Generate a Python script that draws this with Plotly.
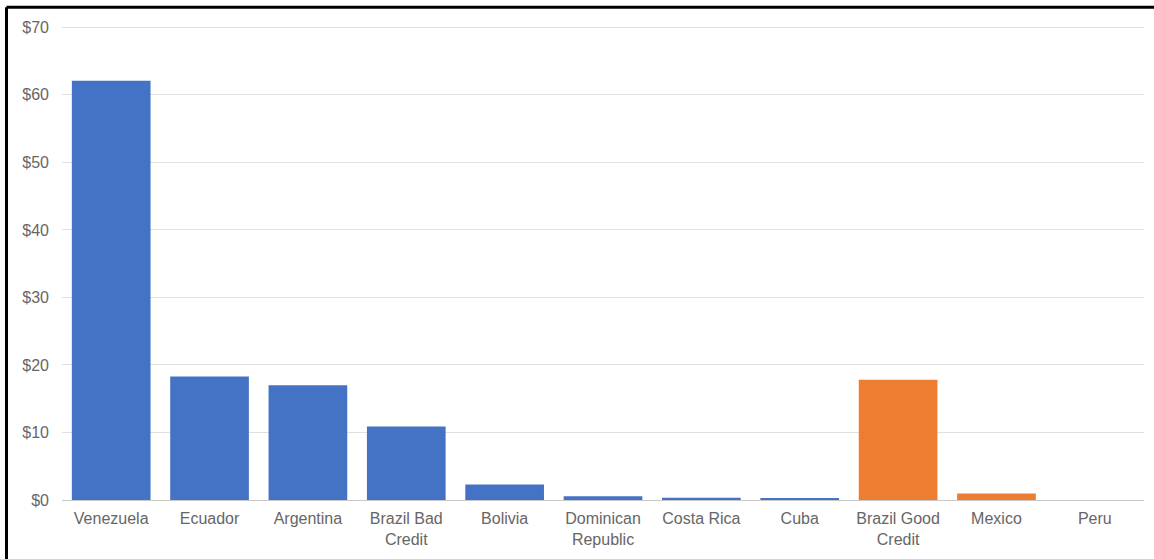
import plotly.graph_objects as go

# Countries in display order, with the value for each and the credit group
countries = ["Venezuela", "Ecuador", "Argentina", "Brazil Bad<br>Credit", "Bolivia",
             "Dominican<br>Republic", "Costa Rica", "Cuba", "Brazil Good<br>Credit",
             "Mexico", "Peru"]
values = [62.1, 18.3, 17.0, 10.9, 2.3, 0.55, 0.33, 0.18, 17.8, 0.95, 0.0]
groups = ["bad", "bad", "bad", "bad", "bad", "bad", "bad", "bad", "good", "good", "good"]

group_colors = {"bad": "#4472C4", "good": "#ED7D31"}
y_ticks = [0, 10, 20, 30, 40, 50, 60, 70]
y_tick_text = ["$" + str(v) for v in y_ticks]

fig = go.Figure(
    go.Bar(
        x=countries,
        y=values,
        marker=dict(color=[group_colors[g] for g in groups], line=dict(width=0)),
        hovertemplate="%{x}: $%{y}<extra></extra>",
    )
)

text_color = "#666666"
fig.update_layout(
    width=1154,
    height=559,
    margin=dict(l=62, r=10, t=26, b=58.5),
    paper_bgcolor="white",
    plot_bgcolor="white",
    bargap=0.2,
    showlegend=False,
    font=dict(family="Liberation Sans, Arial, sans-serif", size=16, color=text_color),
    xaxis=dict(
        showgrid=False,
        showline=True,
        linecolor="#c8c8c8",
        linewidth=1,
        ticks="",
        ticklabelstandoff=4,
        tickfont=dict(size=16, color=text_color),
    ),
    yaxis=dict(
        range=[0, 70.2],
        tickvals=y_ticks,
        ticktext=y_tick_text,
        showgrid=True,
        gridcolor="#e0e0e0",
        gridwidth=1,
        zeroline=False,
        ticks="",
        ticklabelstandoff=12,
        tickfont=dict(size=16, color=text_color),
    ),
    shapes=[
        # frame lines along the left and top edges
        dict(type="line", xref="paper", yref="paper",
             x0=-0.0513, x1=-0.0513, y0=-0.3, y1=1.0394,
             line=dict(color="black", width=3)),
        dict(type="line", xref="paper", yref="paper",
             x0=-0.0513, x1=1.1, y0=1.0394, y1=1.0394,
             line=dict(color="black", width=3)),
    ],
)

fig.write_html("out.html")
